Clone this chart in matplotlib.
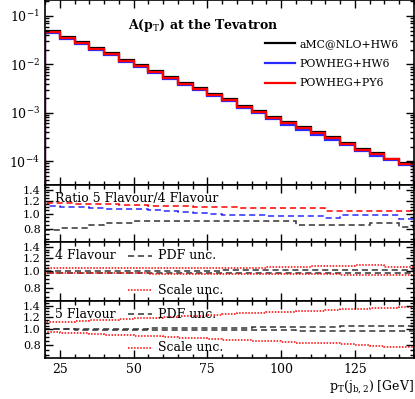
import numpy as np
import matplotlib
matplotlib.use("Agg")
import matplotlib.pyplot as plt
from matplotlib.ticker import FixedLocator, NullFormatter, FormatStrFormatter, MultipleLocator

plt.rcParams['font.family'] = 'DejaVu Serif'
plt.rcParams['mathtext.fontset'] = 'dejavuserif'

# bin edges in pT [GeV]
edges = np.arange(20, 150, 5)

# main panel: A(pT)
amc_hw6 = [0.0490, 0.0362, 0.0285, 0.0215, 0.0169, 0.0123, 0.00970, 0.00728, 0.00539, 0.00404,
           0.00318, 0.00243, 0.00191, 0.00139, 0.00107, 0.000800, 0.000630, 0.000497, 0.000391, 0.000309,
           0.000235, 0.000176, 0.000144, 0.000113, 0.0000906]
pow_hw6 = [0.0444, 0.0328, 0.0258, 0.0195, 0.0153, 0.0111, 0.00877, 0.00658, 0.00487, 0.00366,
           0.00288, 0.00219, 0.00173, 0.00125, 0.000969, 0.000724, 0.000570, 0.000449, 0.000353, 0.000279,
           0.000213, 0.000160, 0.000130, 0.000103, 0.0000820]
pow_py6 = [0.0467, 0.0345, 0.0272, 0.0205, 0.0161, 0.0117, 0.00923, 0.00693, 0.00513, 0.00385,
           0.00303, 0.00231, 0.00182, 0.00132, 0.00102, 0.000762, 0.000600, 0.000473, 0.000372, 0.000294,
           0.000224, 0.000168, 0.000137, 0.000108, 0.0000863]

# ratio 5 flavour / 4 flavour
r_red = [1.16, 1.16, 1.15, 1.14, 1.14, 1.13, 1.13, 1.12, 1.11, 1.11, 1.10, 1.10, 1.09, 1.08, 1.08,
         1.08, 1.08, 1.08, 1.08, 1.04, 1.04, 1.04, 1.04, 1.04, 1.04]
r_blue = [1.11, 1.10, 1.09, 1.08, 1.07, 1.07, 1.06, 1.05, 1.04, 1.02, 1.01, 1.00, 0.98, 0.98, 0.98,
          0.96, 0.96, 0.96, 0.96, 0.94, 0.975, 0.975, 0.975, 0.975, 0.92]
r_black = [0.79, 0.81, 0.81, 0.85, 0.87, 0.87, 0.90, 0.90, 0.90, 0.90, 0.90, 0.90, 0.90, 0.90, 0.90,
           0.90, 0.90, 0.85, 0.85, 0.85, 0.85, 0.85, 0.87, 0.87, 0.83]

# 4 flavour uncertainties
sc_up_4f = [1.05, 1.05, 1.05, 1.05, 1.05, 1.05, 1.05, 1.05, 1.05, 1.05, 1.05, 1.05, 1.055, 1.055, 1.055,
            1.06, 1.06, 1.06, 1.08, 1.08, 1.08, 1.10, 1.10, 1.07, 1.07]
pdf_up_4f = [1.005, 1.005, 1.005, 1.008, 1.008, 1.008, 1.01, 1.01, 1.01, 1.012, 1.012, 1.012, 1.015, 1.015, 1.015,
             1.015, 1.018, 1.018, 1.018, 1.02, 1.02, 1.02, 1.022, 1.022, 1.022]
pdf_dn_4f = [0.985, 0.985, 0.985, 0.985, 0.985, 0.985, 0.985, 0.985, 0.985, 0.984, 0.984, 0.984, 0.984, 0.984, 0.984,
             0.984, 0.984, 0.983, 0.983, 0.983, 0.983, 0.983, 0.983, 0.983, 0.983]
sc_dn_4f = [0.975, 0.975, 0.975, 0.974, 0.974, 0.973, 0.973, 0.972, 0.972, 0.971, 0.970, 0.970, 0.969, 0.968, 0.967,
            0.966, 0.965, 0.964, 0.962, 0.960, 0.958, 0.956, 0.955, 0.953, 0.952]

# 5 flavour uncertainties
sc_up_5f = [1.11, 1.12, 1.13, 1.14, 1.15, 1.16, 1.17, 1.18, 1.19, 1.21, 1.22, 1.23, 1.25, 1.26, 1.27,
            1.28, 1.29, 1.30, 1.31, 1.32, 1.33, 1.34, 1.35, 1.36, 1.37]
pdf_up_5f = [1.0, 1.0, 1.005, 1.005, 1.01, 1.01, 1.01, 1.015, 1.015, 1.02, 1.02, 1.02, 1.025, 1.025, 1.03,
             1.03, 1.035, 1.035, 1.04, 1.04, 1.045, 1.045, 1.05, 1.05, 1.055]
pdf_dn_5f = [1.0, 1.0, 0.998, 0.998, 0.996, 0.996, 0.995, 0.994, 0.993, 0.992, 0.991, 0.99, 0.99, 0.989, 0.988,
             0.987, 0.986, 0.985, 0.984, 0.983, 0.982, 0.98, 0.979, 0.977, 0.975]
sc_dn_5f = [0.96, 0.95, 0.945, 0.94, 0.93, 0.92, 0.915, 0.91, 0.90, 0.89, 0.88, 0.875, 0.865, 0.86, 0.85,
            0.845, 0.84, 0.83, 0.825, 0.82, 0.81, 0.80, 0.795, 0.785, 0.78]

fig = plt.figure(figsize=(4.15, 3.99), dpi=100)
L, W = 0.1084, 0.889
ax0 = fig.add_axes([L, 0.5363, W, 0.4627])
ax1 = fig.add_axes([L, 0.3935, W, 0.1428])
ax2 = fig.add_axes([L, 0.2456, W, 0.1479])
ax3 = fig.add_axes([L, 0.1028, W, 0.1428])


def style(ax):
    ax.set_xlim(20, 145)
    ax.xaxis.set_major_locator(MultipleLocator(25))
    ax.xaxis.set_minor_locator(MultipleLocator(5))
    ax.tick_params(which='both', direction='in', top=True, right=True, labelsize=9, width=1.0)
    ax.tick_params(which='major', length=6)
    ax.tick_params(which='minor', length=3)
    for s in ax.spines.values():
        s.set_linewidth(1.2)


# main panel
ax0.stairs(amc_hw6, edges, color='black', lw=1.6, label='aMC@NLO+HW6')
ax0.stairs(pow_hw6, edges, color='#2a2aff', lw=1.6, label='POWHEG+HW6')
ax0.stairs(pow_py6, edges, color='#ff0000', lw=1.6, label='POWHEG+PY6')
ax0.set_yscale('log')
ax0.set_ylim(3.2e-5, 0.21)
style(ax0)
ax0.set_xticklabels([])
ax0.text(0.225, 0.862, r'A(p$_\mathrm{T}$) at the Tevatron', transform=ax0.transAxes,
         fontsize=9, fontweight='bold', va='center')
ax0.legend(loc='upper left', bbox_to_anchor=(0.585, 0.815), frameon=False, fontsize=7.8,
           handlelength=2.8, handletextpad=0.4, labelspacing=0.9, borderaxespad=0.0)

# ratio panels
for ax in (ax1, ax2, ax3):
    ax.set_yscale('log')
    ax.set_ylim(1 / 1.5, 1.5)
    ax.yaxis.set_major_locator(FixedLocator([0.8, 1.0, 1.2, 1.4]))
    ax.yaxis.set_major_formatter(FormatStrFormatter('%.1f'))
    ax.yaxis.set_minor_locator(FixedLocator(np.arange(0.70, 1.50, 0.05)))
    ax.yaxis.set_minor_formatter(NullFormatter())
    style(ax)
    ax.tick_params(axis='y', which='major', labelsize=8, pad=3)

ax1.stairs(r_red, edges, color='#ff0000', lw=1.1, ls=(0, (4, 2.5)))
ax1.stairs(r_blue, edges, color='#2a2aff', lw=1.1, ls=(0, (4, 2.5)))
ax1.stairs(r_black, edges, color='#333333', lw=1.1, ls=(0, (4, 2.5)))
ax1.text(0.027, 0.77, 'Ratio 5 Flavour/4 Flavour', transform=ax1.transAxes, fontsize=9, va='center')
ax1.set_xticklabels([])

for ax, up_s, up_p, dn_p, dn_s, name in ((ax2, sc_up_4f, pdf_up_4f, pdf_dn_4f, sc_dn_4f, '4 Flavour'),
                                         (ax3, sc_up_5f, pdf_up_5f, pdf_dn_5f, sc_dn_5f, '5 Flavour')):
    ax.stairs(up_p, edges, color='#333333', lw=1.1, ls=(0, (4, 2.5)))
    ax.stairs(dn_p, edges, color='#333333', lw=1.1, ls=(0, (4, 2.5)))
    ax.stairs(up_s, edges, color='#ff0000', lw=1.1, ls=(0, (1, 1)))
    ax.stairs(dn_s, edges, color='#ff0000', lw=1.1, ls=(0, (1, 1)))
    ax.text(0.027, 0.77, name, transform=ax.transAxes, fontsize=9, va='center')
    ax.plot([0.225, 0.29], [0.77, 0.77], transform=ax.transAxes, color='#333333', lw=1.1, ls=(0, (4, 2.5)))
    ax.text(0.305, 0.77, 'PDF unc.', transform=ax.transAxes, fontsize=9, va='center')
    ax.plot([0.225, 0.29], [0.18, 0.18], transform=ax.transAxes, color='#ff0000', lw=1.1, ls=(0, (1, 1)))
    ax.text(0.305, 0.18, 'Scale unc.', transform=ax.transAxes, fontsize=9, va='center')

ax2.set_xticklabels([])
ax3.set_xlabel(r'p$_\mathrm{T}$(j$_\mathrm{b,2}$) [GeV]', fontsize=9, loc='right', labelpad=2)

fig.savefig('out.png', dpi=100)
